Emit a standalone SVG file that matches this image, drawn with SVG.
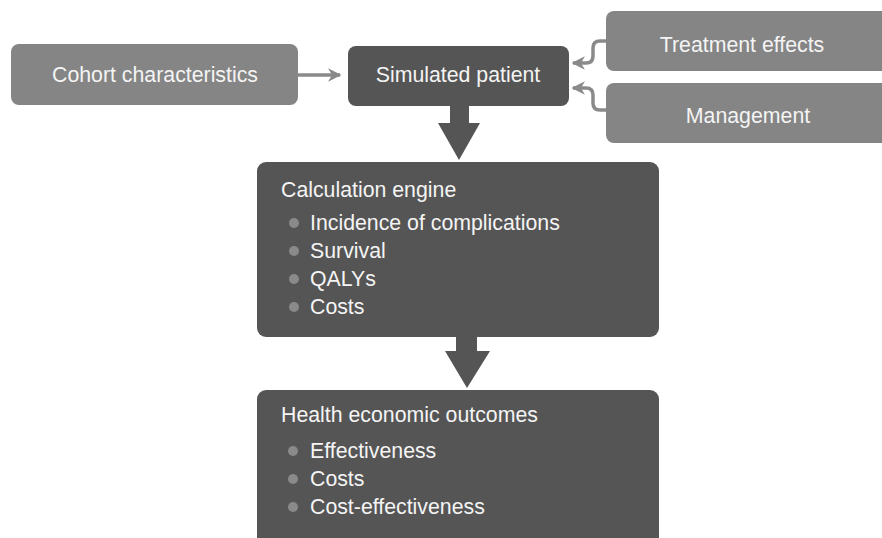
<svg xmlns="http://www.w3.org/2000/svg" width="882" height="538" viewBox="0 0 882 538">
<defs>
<style>
.light{fill:#858585;}
.dark{fill:#555555;}
.t{font-family:"Liberation Sans",Arial,sans-serif;font-size:21.3px;fill:#f4f4f4;}
.c{text-anchor:middle;}
.b{fill:#8a8a8a;}
.conn{fill:none;stroke:#8a8a8a;stroke-width:3.5;}
.big{fill:#555555;}
</style>
<marker id="ah" viewBox="0 0 10 10" refX="9" refY="5" markerWidth="3.8" markerHeight="3.8" orient="auto" markerUnits="strokeWidth">
<path d="M0,0 L10,5 L0,10 L3,5 z" fill="#8a8a8a"/>
</marker>
</defs>
<rect width="882" height="538" fill="#ffffff"/>
<g id="connectors">
<path class="conn" d="M298,75 H340" marker-end="url(#ah)"/>
<path class="conn" d="M606,41 H600 Q593,41 593,48 V56 Q593,63 586,63 H573" marker-end="url(#ah)"/>
<path class="conn" d="M606,110 H600 Q593,110 593,103 V95 Q593,88 586,88 H573" marker-end="url(#ah)"/>
<path class="big" d="M450,105 H469 V123 H480 L459,160 L438,123 H450 Z"/>
<path class="big" d="M456,336 H477 V351 H490 L467,388 L445,351 H456 Z"/>
</g>
<g id="cohort">
<rect class="light" x="11" y="44" width="287" height="61" rx="8"/>
<text class="t c" x="155" y="82">Cohort characteristics</text>
</g>
<g id="simulated">
<rect class="dark" x="348" y="46" width="221" height="60" rx="8"/>
<text class="t c" x="458" y="82">Simulated patient</text>
</g>
<g id="treatment">
<rect class="light" x="606" y="11" width="290" height="60" rx="8"/>
<text class="t c" x="742" y="52">Treatment effects</text>
</g>
<g id="management">
<rect class="light" x="606" y="83" width="290" height="60" rx="8"/>
<text class="t c" x="748" y="123">Management</text>
</g>
<g id="calculation">
<rect class="dark" x="257" y="162" width="402" height="175" rx="9"/>
<text class="t" x="281" y="197">Calculation engine</text>
<circle class="b" cx="294" cy="223" r="5"/>
<text class="t" x="310" y="230">Incidence of complications</text>
<circle class="b" cx="294" cy="251" r="5"/>
<text class="t" x="310" y="258">Survival</text>
<circle class="b" cx="294" cy="279" r="5"/>
<text class="t" x="310" y="286">QALYs</text>
<circle class="b" cx="294" cy="307" r="5"/>
<text class="t" x="310" y="314">Costs</text>
</g>
<g id="outcomes">
<rect class="dark" x="257" y="390" width="402" height="160" rx="9"/>
<text class="t" x="281" y="422">Health economic outcomes</text>
<circle class="b" cx="293" cy="451" r="5"/>
<text class="t" x="310" y="458">Effectiveness</text>
<circle class="b" cx="293" cy="479" r="5"/>
<text class="t" x="310" y="486">Costs</text>
<circle class="b" cx="293" cy="507" r="5"/>
<text class="t" x="310" y="514">Cost-effectiveness</text>
</g>
</svg>
